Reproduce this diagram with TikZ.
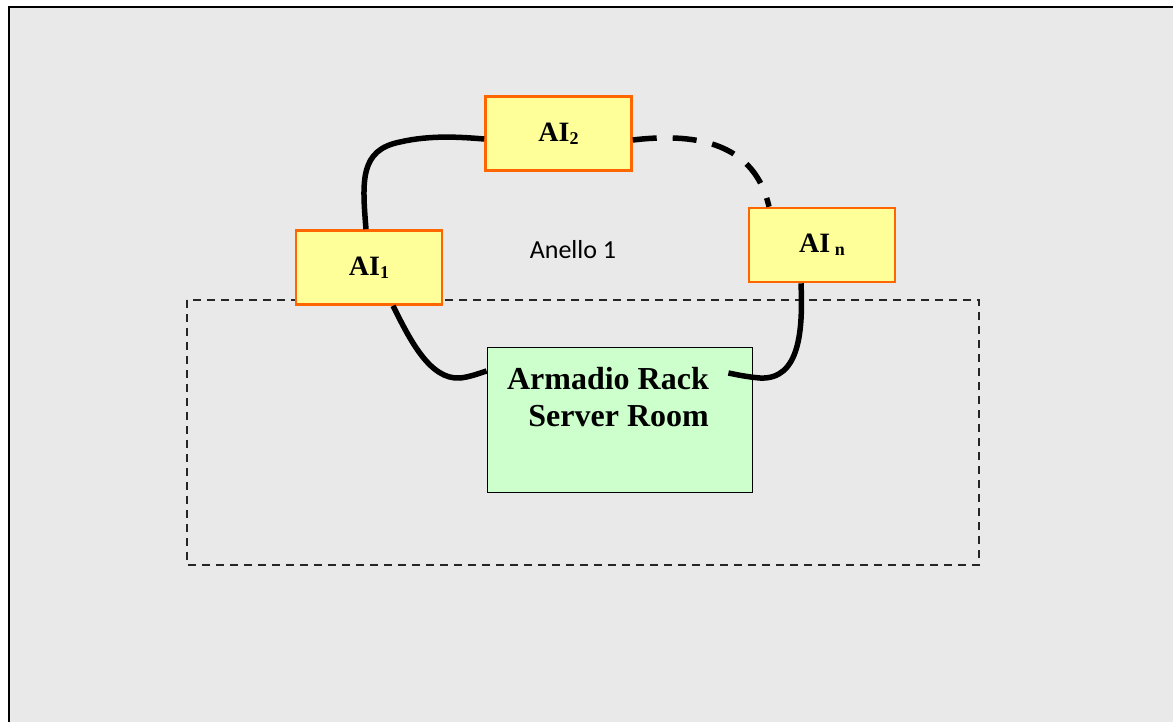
\documentclass[tikz,border=0pt]{standalone}
\usepackage{fontspec}
\setmainfont{Liberation Serif}
\newfontfamily\anellofont{Carlito}
\definecolor{bgray}{HTML}{E9E9E9}
\definecolor{aiyellow}{HTML}{FFFF99}
\definecolor{aiorange}{HTML}{FF6600}
\definecolor{rackgreen}{HTML}{CCFFCC}
\tikzset{
  aibox/.style={draw=aiorange, fill=aiyellow, line width=2.6pt, minimum width=146pt, minimum height=74pt, inner sep=0pt, font=\fontsize{28}{28}\selectfont\bfseries},
  rackbox/.style={draw=black, fill=rackgreen, line width=0.8pt, minimum width=265pt, minimum height=145pt, inner sep=0pt},
  cable/.style={line width=5.5pt, black},
  cabledash/.style={line width=5.5pt, black, dash pattern=on 24pt off 16pt},
  zone/.style={draw=black!85, line width=1.1pt, dash pattern=on 8pt off 6pt}
}
\begin{document}
\begin{tikzpicture}[x=1pt,y=-1pt]
\useasboundingbox (0,0) rectangle (1173,722);
\fill[white] (0,0) rectangle (1173,722);
\draw[fill=bgray, line width=1.6pt] (9,7) rectangle (1190,740);
\draw[zone] (187,300) rectangle (979,565);
\node[rackbox] (rack) at (619.5,419.5) {};
\node[anchor=base east, align=right, inner sep=0pt, font=\fontsize{32}{37}\selectfont\bfseries] (racktext) at (709,426) {Armadio Rack\\Server Room};
\node[aibox] (ai1) at (369,267.5) {AI\raisebox{-3pt}{\fontsize{18}{18}\selectfont 1}};
\node[aibox] (ai2) at (558.5,133.5) {AI\raisebox{-3pt}{\fontsize{18}{18}\selectfont 2}};
\node[aibox] (ain) at (822,245) {AI\,\raisebox{-3pt}{\fontsize{18}{18}\selectfont n}};
\node[font=\anellofont\fontsize{26}{26}\selectfont, inner sep=0pt] (anello) at (573,250) {Anello 1};
\coordinate (rackin) at ([xshift=-24pt,yshift=46.5pt]rack.east);
\draw[cable] ([xshift=-3pt]ai1.north) .. controls (362,180) and (360,150) .. (400,142) .. controls (430,135) and (460,137) .. ([yshift=-5.5pt]ai2.west);
\draw[cabledash] ([yshift=-6.5pt]ai2.east) .. controls (700,132) and (755,145) .. ([xshift=-53pt]ain.north);
\draw[cable] ([xshift=24pt]ai1.south) .. controls (410,340) and (430,380) .. (460,378) .. controls (470,377) and (480,373) .. ([yshift=48.5pt]rack.west);
\draw[cable] ([xshift=-21pt]ain.south) .. controls (803,330) and (800,380) .. (760,378) .. controls (748,377) and (738,375) .. (rackin);
\end{tikzpicture}
\end{document}
